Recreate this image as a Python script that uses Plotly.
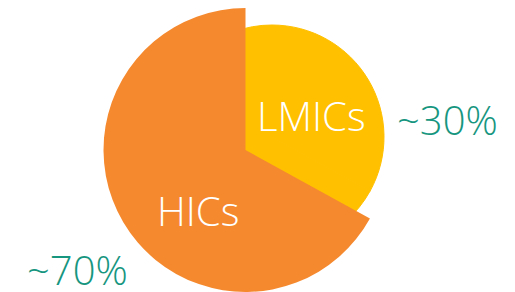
import plotly.graph_objects as go

# Data
categories = ["LMICs", "HICs"]
shares = [33, 67]                 # slice sizes
share_labels = ["~30%", "~70%"]   # text shown next to slices

YELLOW = "#FFC000"
ORANGE = "#F5892E"
TEAL = "#17967F"
W, H = 515, 292
OFF = 8  # the page body margin shifts the figure by 8px right/down

fig = go.Figure()

# Back layer: the pulled-out LMICs disc (yellow)
ycx, ycy, yr = 272 - OFF, 137 - OFF, 112
fig.add_trace(go.Pie(
    labels=categories, values=shares, sort=False, direction="clockwise",
    marker=dict(colors=[YELLOW, YELLOW], line=dict(width=1, color=YELLOW)),
    textinfo="none", hoverinfo="label+value", showlegend=False,
    domain=dict(x=[(ycx - yr) / W, (ycx + yr) / W],
                y=[(H - ycy - yr) / H, (H - ycy + yr) / H]),
))

# Front layer: the HICs slice (orange), LMICs part transparent
ocx, ocy, orr = 245.5 - OFF, 150 - OFF, 142
fig.add_trace(go.Pie(
    labels=categories, values=shares, sort=False, direction="clockwise",
    marker=dict(colors=["rgba(0,0,0,0)", ORANGE], line=dict(width=0)),
    textinfo="none", hoverinfo="label+value", showlegend=False,
    domain=dict(x=[(ocx - orr) / W, (ocx + orr) / W],
                y=[max(0, (H - ocy - orr) / H), min(1, (H - ocy + orr) / H)]),
))

font_family = "Open Sans, Segoe UI, sans-serif"
label_pos = {"LMICs": (311, 116), "HICs": (198, 210)}
pct_pos = {"LMICs": (447, 119), "HICs": (77, 269)}

annotations = []
for cat, pct in zip(categories, share_labels):
    lx, ly = label_pos[cat]
    annotations.append(dict(
        x=(lx - OFF) / W, y=1 - (ly - OFF) / H, xref="paper", yref="paper", text=cat,
        showarrow=False, xanchor="center", yanchor="middle",
        font=dict(family=font_family, size=40, color="white", weight=300)))
    px, py = pct_pos[cat]
    annotations.append(dict(
        x=(px - OFF) / W, y=1 - (py - OFF) / H, xref="paper", yref="paper", text=pct,
        showarrow=False, xanchor="center", yanchor="middle",
        font=dict(family=font_family, size=40, color=TEAL, weight=300)))

fig.update_layout(
    width=W, height=H, margin=dict(l=0, r=0, t=0, b=0),
    paper_bgcolor="white", plot_bgcolor="white",
    annotations=annotations,
)

fig.write_html("out.html")
